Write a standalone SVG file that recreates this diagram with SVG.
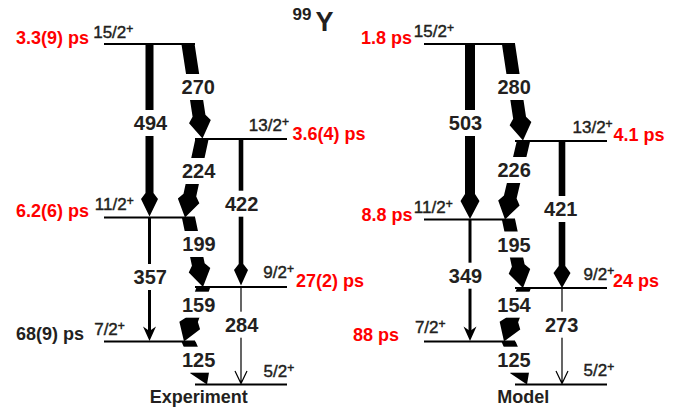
<svg xmlns="http://www.w3.org/2000/svg" width="689" height="413" viewBox="0 0 689 413">
<style>
.lvl{stroke:#000;stroke-width:2;fill:none}
.arw{fill:#000}
.ln{stroke:#000;fill:none}
.bg{fill:#fff}
.tl{font-family:"Liberation Sans",Arial,sans-serif;font-weight:bold;font-size:20px;fill:#231f20;text-anchor:middle}
.spin{font-family:"Liberation Sans",Arial,sans-serif;font-size:17px;fill:#231f20;stroke:#231f20;stroke-width:0.45}
.sup{font-size:12px}
.life{font-family:"Liberation Sans",Arial,sans-serif;font-weight:bold;font-size:18px;fill:#ff0000}
.blk{fill:#231f20}
.cap{font-family:"Liberation Sans",Arial,sans-serif;font-weight:bold;font-size:18px;fill:#231f20;text-anchor:middle}
</style>
<rect width="689" height="413" fill="#fff"/>
<g id="title">
<text x="292.5" y="20" style="font-family:'Liberation Sans',Arial,sans-serif;font-weight:bold;font-size:17px;fill:#231f20">99</text>
<text x="315.5" y="30.5" style="font-family:'Liberation Sans',Arial,sans-serif;font-weight:bold;font-size:27px;fill:#231f20">Y</text>
</g>
<g id="exp-15-2"><path class="lvl" d="M104,44H195"/><text class="spin" x="93.2" y="38">15/2<tspan class="sup" dy="-5">+</tspan></text><text class="life" x="16" y="43.5">3.3(9) ps</text></g>
<g id="exp-13-2"><path class="lvl" d="M195,139H287"/><text class="spin" x="248.8" y="131">13/2<tspan class="sup" dy="-5">+</tspan></text><text class="life" x="292.5" y="139.5">3.6(4) ps</text></g>
<g id="exp-11-2"><path class="lvl" d="M104,217.5H195"/><text class="spin" x="94.8" y="210">11/2<tspan class="sup" dy="-5">+</tspan></text><text class="life" x="16" y="216.5">6.2(6) ps</text></g>
<g id="exp-9-2"><path class="lvl" d="M195,287H287"/><text class="spin" x="263.3" y="277.5">9/2<tspan class="sup" dy="-5">+</tspan></text><text class="life" x="296" y="287">27(2) ps</text></g>
<g id="exp-7-2"><path class="lvl" d="M104,341.5H195"/><text class="spin" x="94.2" y="335">7/2<tspan class="sup" dy="-5">+</tspan></text><text class="life blk" x="16" y="340">68(9) ps</text></g>
<g id="exp-5-2"><path class="lvl" d="M195,384.5H287"/><text class="spin" x="263.5" y="377">5/2<tspan class="sup" dy="-5">+</tspan></text></g>
<g id="mod-15-2"><path class="lvl" d="M424,44H515"/><text class="spin" x="413.8" y="37">15/2<tspan class="sup" dy="-5">+</tspan></text><text class="life" x="361" y="43.5">1.8 ps</text></g>
<g id="mod-13-2"><path class="lvl" d="M515,141H607"/><text class="spin" x="572.5" y="133">13/2<tspan class="sup" dy="-5">+</tspan></text><text class="life" x="613.5" y="140.5">4.1 ps</text></g>
<g id="mod-11-2"><path class="lvl" d="M424,219.5H515"/><text class="spin" x="413.8" y="213.3">11/2<tspan class="sup" dy="-5">+</tspan></text><text class="life" x="361.5" y="220.5">8.8 ps</text></g>
<g id="mod-9-2"><path class="lvl" d="M515,288H607"/><text class="spin" x="583.5" y="280">9/2<tspan class="sup" dy="-5">+</tspan></text><text class="life" x="613" y="286.5">24 ps</text></g>
<g id="mod-7-2"><path class="lvl" d="M424,341.5H515"/><text class="spin" x="414.9" y="333.3">7/2<tspan class="sup" dy="-5">+</tspan></text><text class="life" x="353" y="340.5">88 ps</text></g>
<g id="mod-5-2"><path class="lvl" d="M515,384.5H607"/><text class="spin" x="583.5" y="376">5/2<tspan class="sup" dy="-5">+</tspan></text></g>
<g id="connectors">
<g id="t494"><path class="arw" d="M145.5,44H153.5V193L158,199L149.5,216.5L141,199L145.5,193Z"/><rect class="bg" x="131.5" y="110" width="38" height="26"/><text class="tl" x="150.5" y="130">494</text></g>
<g id="t270"><polygon class="arw" transform="translate(188,44) rotate(-8.72)" points="-6.5,-1 6.5,1 6.5,72.6 11,78.6 0,95.6 -11,78.6 -6.5,72.6"/><rect class="bg" x="179.3" y="74" width="38" height="26"/><text class="tl" x="198.3" y="94">270</text></g>
<g id="t224"><polygon class="arw" transform="translate(202,139) rotate(12.22)" points="-6.5,1.41 6.5,-1.41 6.5,57.3 11,63.3 0,80.3 -11,63.3 -6.5,57.3"/><rect class="bg" x="179.7" y="158" width="38" height="26"/><text class="tl" x="198.7" y="178">224</text></g>
<g id="t422"><path class="arw" d="M238.7,139H243.3V264L248,270L241,285.5L234,270L238.7,264Z"/><rect class="bg" x="222.7" y="190.7" width="38" height="26"/><text class="tl" x="241.7" y="210.7">422</text></g>
<g id="t199"><polygon class="arw" transform="translate(188.5,217.5) rotate(-11.78)" points="-6.5,-1.36 6.5,1.36 6.5,48 11,54 0,71 -11,54 -6.5,48"/><rect class="bg" x="180" y="231" width="38" height="26"/><text class="tl" x="199" y="251">199</text></g>
<g id="t357"><path class="ln" stroke-width="3" d="M149.5,217.5V332"/><path class="arw" d="M149.5,341L143,326.5L149.5,331L156,326.5Z"/><rect class="bg" x="131.3" y="264" width="38" height="26"/><text class="tl" x="150.3" y="284">357</text></g>
<g id="t159"><polygon class="arw" transform="translate(203.5,287) rotate(19.69)" points="-6.5,2.33 6.5,-2.33 6.5,34.9 11,40.9 0,57.9 -11,40.9 -6.5,34.9"/><rect class="bg" x="179.7" y="291.7" width="38" height="26"/><text class="tl" x="198.7" y="311.7">159</text></g>
<g id="t284"><path class="ln" stroke-width="1.2" d="M241,287V383M235,371L241,383.5L247,371"/><rect class="bg" x="222.7" y="311.7" width="38" height="26"/><text class="tl" x="241.7" y="331.7">284</text></g>
<g id="t125e"><polygon class="arw" transform="translate(188.5,341.5) rotate(-23.28)" points="-6.5,-2.8 6.5,2.8 6.5,23.8 11,29.8 0,46.8 -11,29.8 -6.5,23.8"/><rect class="bg" x="179.7" y="346.7" width="38" height="26"/><text class="tl" x="198.7" y="366.7">125</text></g>
<g id="t503"><path class="arw" d="M465,44H475V194L479.5,201L470,219L460.5,201L465,194Z"/><rect class="bg" x="446.5" y="110" width="38" height="26"/><text class="tl" x="465.5" y="130">503</text></g>
<g id="t280"><polygon class="arw" transform="translate(508.5,44) rotate(-8.55)" points="-6.5,-1 6.5,1 6.5,74.6 11,80.6 0,97.6 -11,80.6 -6.5,74.6"/><rect class="bg" x="495.2" y="74" width="38" height="26"/><text class="tl" x="514.2" y="94">280</text></g>
<g id="t226"><polygon class="arw" transform="translate(523.5,141) rotate(13.26)" points="-6.5,1.53 6.5,-1.53 6.5,57.65 11,63.65 0,80.65 -11,63.65 -6.5,57.65"/><rect class="bg" x="495.2" y="157" width="38" height="26"/><text class="tl" x="514.2" y="177">226</text></g>
<g id="t421"><path class="arw" d="M558.7,141H565.3V266L570.5,273L562,288L553.5,273L558.7,266Z"/><rect class="bg" x="541.8" y="196" width="38" height="26"/><text class="tl" x="560.8" y="216">421</text></g>
<g id="t195"><polygon class="arw" transform="translate(508.5,219.5) rotate(-11.95)" points="-6.5,-1.38 6.5,1.38 6.5,47 11,53 0,70 -11,53 -6.5,47"/><rect class="bg" x="495" y="231.5" width="38" height="26"/><text class="tl" x="514" y="251.5">195</text></g>
<g id="t349"><path class="ln" stroke-width="3" d="M470,219.5V332"/><path class="arw" d="M470,341L463.5,326.5L470,331L476.5,326.5Z"/><rect class="bg" x="446.5" y="262.7" width="38" height="26"/><text class="tl" x="465.5" y="282.7">349</text></g>
<g id="t154"><polygon class="arw" transform="translate(524,288) rotate(20.5)" points="-6.5,2.43 6.5,-2.43 6.5,34.1 11,40.1 0,57.1 -11,40.1 -6.5,34.1"/><rect class="bg" x="495" y="291.7" width="38" height="26"/><text class="tl" x="514" y="311.7">154</text></g>
<g id="t273"><path class="ln" stroke-width="1.2" d="M562,288V383M556,371L562,383.5L568,371"/><rect class="bg" x="542.7" y="311.7" width="38" height="26"/><text class="tl" x="561.7" y="331.7">273</text></g>
<g id="t125m"><polygon class="arw" transform="translate(508.5,341.5) rotate(-23.28)" points="-6.5,-2.8 6.5,2.8 6.5,23.8 11,29.8 0,46.8 -11,29.8 -6.5,23.8"/><rect class="bg" x="495" y="346.7" width="38" height="26"/><text class="tl" x="514" y="366.7">125</text></g>
</g>
<g id="captions">
<text class="cap" x="198.8" y="403">Experiment</text>
<text class="cap" x="523.3" y="403">Model</text>
</g>
</svg>
